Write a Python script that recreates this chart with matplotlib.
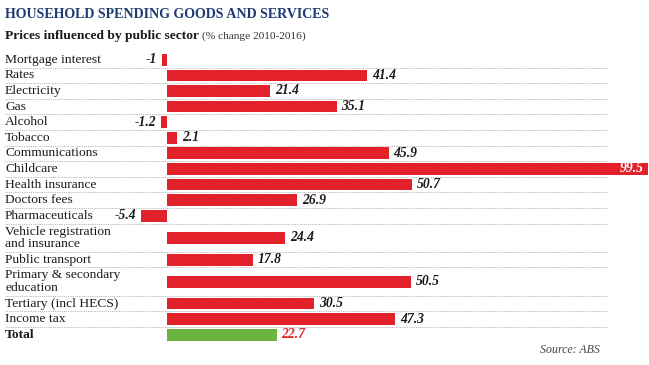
import matplotlib.pyplot as plt
import matplotlib.transforms as mtransforms

# chart data
categories = ['Mortgage interest', 'Rates', 'Electricity', 'Gas', 'Alcohol', 'Tobacco',
              'Communications', 'Childcare', 'Health insurance', 'Doctors fees',
              'Pharmaceuticals', 'Vehicle registration\nand insurance', 'Public transport',
              'Primary & secondary\neducation', 'Tertiary (incl HECS)', 'Income tax', 'Total']
values = [-1, 41.4, 21.4, 35.1, -1.2, 2.1, 45.9, 99.5, 50.7, 26.9, -5.4, 24.4, 17.8,
          50.5, 30.5, 47.3, 22.7]
value_labels = ['-1', '41.4', '21.4', '35.1', '-1.2', '2.1', '45.9', '99.5', '50.7', '26.9',
                '-5.4', '24.4', '17.8', '50.5', '30.5', '47.3', '22.7']

RED = '#e3212b'
GREEN = '#6cb33f'
NAVY = '#1f3a72'
W, H = 649, 365

fig = plt.figure(figsize=(W / 100, H / 100), dpi=100)
ax = fig.add_axes([0, 0, 1, 1])
ax.axis('off')

# x axis: zero sits at pixel 167, 4.83 px per unit
zero_px, px_per = 167, 4.83
ax.set_xlim(-zero_px / px_per, (W - zero_px) / px_per)
ax.set_ylim(H, 0)

serif = ['Liberation Serif', 'DejaVu Serif']
blend = mtransforms.blended_transform_factory(fig.transFigure, ax.transData)

# row layout: two-line labels get taller rows
top = 52.0
single, double = 15.6, 28.3
y = top
for i, (cat, v, lab) in enumerate(zip(categories, values, value_labels)):
    h = double if '\n' in cat else single
    yc = y + h / 2
    is_total = cat == 'Total'
    color = GREEN if is_total else RED
    ax.barh(yc, v, height=11.8, color=color, edgecolor='none')

    ax.text(5 / W, yc, cat, transform=blend, fontsize=9.7, family=serif,
            fontweight='bold' if is_total else 'normal', va='center', ha='left',
            linespacing=1.05, color='#1a1a1a')

    # value labels
    vfs = 9.8
    if v >= 90:
        ax.text(v - 0.8, yc, lab, fontsize=vfs, family=serif, fontweight='bold',
                style='italic', color='white', va='center', ha='right')
    elif v < 0:
        ax.text(v - 1.0, yc, lab, fontsize=vfs, family=serif, fontweight='bold',
                style='italic', color='#1a1a1a', va='center', ha='right')
    else:
        ax.text(v + 1.0, yc, lab, fontsize=vfs, family=serif, fontweight='bold',
                style='italic', color=RED if is_total else '#1a1a1a',
                va='center', ha='left')

    y += h
    if not is_total:
        ax.plot([5 / W, 607 / W], [y, y], transform=blend, color='#a0a0a0',
                linestyle=(0, (1, 1.2)), linewidth=0.6, zorder=0)

# titles
fig.text(5 / W, 1 - 15 / H, 'HOUSEHOLD SPENDING GOODS AND SERVICES', family=serif,
         fontsize=10.1, fontweight='bold', color=NAVY, va='center', ha='left')
t = fig.text(5 / W, 1 - 36 / H, 'Prices influenced by public sector', family=serif,
             fontsize=9.7, fontweight='bold', color='#1a1a1a', va='center', ha='left')
fig.canvas.draw()
bb = t.get_window_extent()
fig.text(bb.x1 / W + 3 / W, 1 - 36 / H, '(% change 2010-2016)', family=serif,
         fontsize=8.2, color='#333333', va='center', ha='left')

fig.text(600 / W, 1 - 350 / H, 'Source: ABS', family=serif, fontsize=8.6,
         style='italic', color='#444444', va='center', ha='right')

fig.savefig('out.png', dpi=100)
